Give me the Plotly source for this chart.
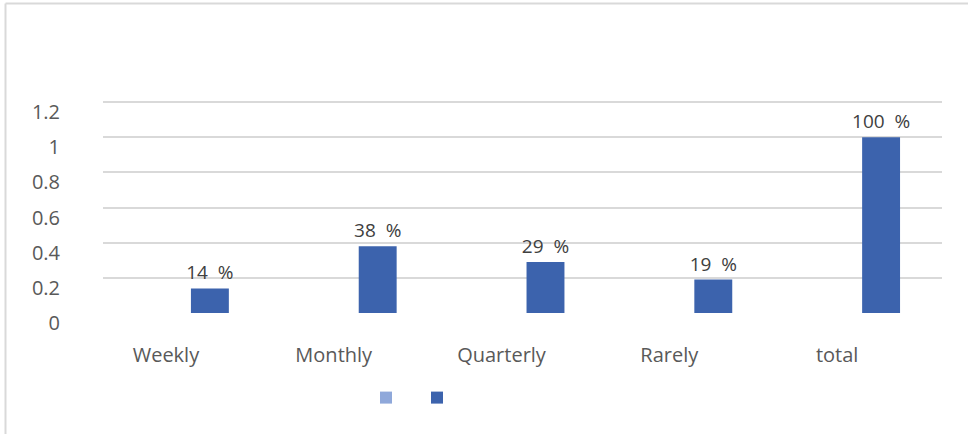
import plotly.graph_objects as go

# Frequency categories and their shares
categories = ["Weekly", "Monthly", "Quarterly", "Rarely", "total"]
series_a = [0, 0, 0, 0, 0]
series_b = [0.14, 0.38, 0.29, 0.19, 1.00]
y_ticks = [0, 0.2, 0.4, 0.6, 0.8, 1, 1.2]
y_tick_text = ["0", "0.2", "0.4", "0.6", "0.8", "1", "1.2"]

W, H = 968, 434
GRID_TOP, GRID_BOTTOM = 102, 313      # pixel rows of the 1.2 and 0 gridlines
HEADROOM = 4                          # keeps the top gridline inside the plot
M_L, M_R = 103, 26
M_T = GRID_TOP - HEADROOM
M_B = H - GRID_BOTTOM
plot_w = W - M_L - M_R
plot_h = H - M_T - M_B
y_max = 1.2 * plot_h / (GRID_BOTTOM - GRID_TOP)

LIGHT = "#8FA8DA"
DARK = "#3C63AD"
GRID = "#D9D9D9"
FONT = "Open Sans"

labels_b = [f"{round(v * 100)}  %" for v in series_b]

fig = go.Figure()
fig.add_trace(go.Bar(
    x=categories, y=series_a, name=" ",
    marker=dict(color=LIGHT, line=dict(width=0)),
))
fig.add_trace(go.Bar(
    x=categories, y=series_b, name=" ",
    marker=dict(color=DARK, line=dict(width=0)),
    text=labels_b, textposition="outside", cliponaxis=False,
    constraintext="none",
    textfont=dict(family=FONT, size=19, color="#404040"),
))

# outer frame: top and left edges of the chart box
fx0 = (5.5 - M_L) / plot_w
fy1 = 1 + (M_T - 3.5) / plot_h
fig.add_shape(type="line", xref="paper", yref="paper",
              x0=fx0, x1=(W - M_L + 5) / plot_w, y0=fy1, y1=fy1,
              line=dict(color=GRID, width=2))
fig.add_shape(type="line", xref="paper", yref="paper",
              x0=fx0, x1=fx0, y0=fy1, y1=-(M_B + 5) / plot_h,
              line=dict(color=GRID, width=2))

fig.update_layout(
    width=W, height=H,
    margin=dict(l=M_L, r=M_R, t=M_T, b=M_B, pad=0),
    paper_bgcolor="white", plot_bgcolor="white",
    barmode="group", bargap=0.548, bargroupgap=0,
    font=dict(family=FONT, color="#595959"),
    showlegend=True,
    legend=dict(
        orientation="h", x=(366 - M_L) / plot_w, xanchor="left",
        y=-(398 - (H - M_B)) / plot_h, yanchor="middle",
        entrywidth=6, entrywidthmode="pixels",
        font=dict(size=14), bgcolor="rgba(0,0,0,0)",
    ),
    xaxis=dict(
        type="category", range=[-0.524, 4.476],
        showgrid=False, showline=False, zeroline=False, ticks="",
        tickfont=dict(family=FONT, size=20, color="#595959"),
        ticklabelshift=-25, ticklabelstandoff=28,
    ),
    yaxis=dict(
        range=[0, y_max], tickmode="array", tickvals=y_ticks, ticktext=y_tick_text,
        showgrid=True, gridcolor=GRID, gridwidth=2,
        zeroline=False, showline=False, ticks="",
        tickfont=dict(family=FONT, size=20, color="#595959"),
        ticklabelstandoff=42, ticklabelshift=10,
    ),
)

fig.write_html("out.html")
